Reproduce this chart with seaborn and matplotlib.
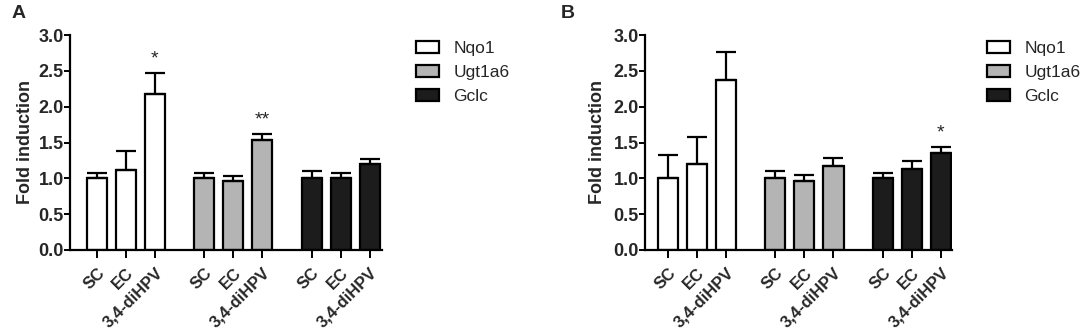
import numpy as np
import pandas as pd
import seaborn as sns
import matplotlib.pyplot as plt

sns.set_style('ticks')
plt.rcParams['font.family'] = ['Liberation Sans', 'DejaVu Sans']

# data
genes = ['Nqo1', 'Ugt1a6', 'Gclc']
treatments = ['SC', 'EC', '3,4-diHPV']
colors = {'Nqo1': '#ffffff', 'Ugt1a6': '#b4b4b4', 'Gclc': '#1c1c1c'}

mean_a = [1.00, 1.12, 2.18, 1.00, 0.96, 1.54, 1.00, 1.00, 1.20]
sem_a = [0.08, 0.26, 0.29, 0.07, 0.07, 0.08, 0.10, 0.07, 0.07]
stars_a = ['', '', '*', '', '', '**', '', '', '']

mean_b = [1.00, 1.20, 2.37, 1.00, 0.96, 1.17, 1.00, 1.13, 1.36]
sem_b = [0.32, 0.38, 0.39, 0.10, 0.09, 0.12, 0.07, 0.11, 0.08]
stars_b = ['', '', '', '', '', '', '', '', '*']

# bar positions (groups separated by a gap)
positions = [0, 1, 2, 3.7, 4.7, 5.7, 7.4, 8.4, 9.4]

W, H = 1084, 335
fig = plt.figure(figsize=(W / 100, H / 100), dpi=100)


def px_axes(x0, x1, y_top, y_bot):
    return fig.add_axes([x0 / W, (H - y_bot) / H, (x1 - x0) / W, (y_bot - y_top) / H])


def draw_panel(ax, means, sems, stars, xlim, legend_at, ylabel_x):
    df = pd.DataFrame({
        'pos': positions,
        'value': means,
        'gene': np.repeat(genes, 3),
    })
    sns.barplot(data=df, x='pos', y='value', hue='gene', native_scale=True,
                palette=colors, dodge=False, width=0.69, edgecolor='black',
                linewidth=1.6, errorbar=None, ax=ax, legend=True)
    ax.errorbar(positions, means, yerr=[np.zeros(len(sems)), sems], fmt='none',
                ecolor='black', elinewidth=1.6, capsize=7, capthick=1.6, zorder=1)
    for p, m, s, st in zip(positions, means, sems, stars):
        if st:
            ax.text(p, m + s + 0.08, st, ha='center', va='bottom', fontsize=14)
    ax.set_xlim(*xlim)
    ax.set_ylim(0, 3.0)
    yt = np.arange(0, 3.01, 0.5)
    ax.set_yticks(yt)
    ax.set_yticklabels([f'{v:.1f}' for v in yt], fontweight='bold', fontsize=13)
    ax.set_xticks(positions)
    ax.set_xticklabels(treatments * 3, rotation=45, ha='right',
                       rotation_mode='anchor', fontweight='bold', fontsize=12)
    ax.set_xlabel('')
    ax.set_ylabel('Fold induction', fontweight='bold', fontsize=13)
    ax.yaxis.set_label_coords(ylabel_x, 0.5)
    ax.tick_params(axis='y', width=1.4, length=4, color='black', pad=0.5)
    ax.tick_params(axis='x', width=1.4, length=6, color='black', pad=5)
    for side in ['left', 'bottom']:
        ax.spines[side].set_linewidth(1.6)
        ax.spines[side].set_color('black')
    sns.despine(ax=ax)
    handles, labels = ax.get_legend_handles_labels()
    ax.legend(handles, labels, loc='upper left',
              bbox_to_anchor=legend_at, bbox_transform=fig.transFigure,
              frameon=False, borderpad=0, borderaxespad=0, fontsize=12.5,
              handlelength=1.35, handleheight=0.7, handletextpad=0.8,
              labelspacing=0.5)


ax_a = px_axes(70, 382, 35, 250)
draw_panel(ax_a, mean_a, sem_a, stars_a, (-0.93, 9.83),
           (416 / W, (H - 41) / H), -0.115)

ax_b = px_axes(645, 952, 35, 250)
draw_panel(ax_b, mean_b, sem_b, stars_b, (-0.79, 9.78),
           (987 / W, (H - 41) / H), -0.128)

fig.text(12 / W, 1 - 13 / H, 'A', fontweight='bold', fontsize=14, va='center')
fig.text(561 / W, 1 - 13 / H, 'B', fontweight='bold', fontsize=14, va='center')

fig.savefig('out.png', dpi=100)
